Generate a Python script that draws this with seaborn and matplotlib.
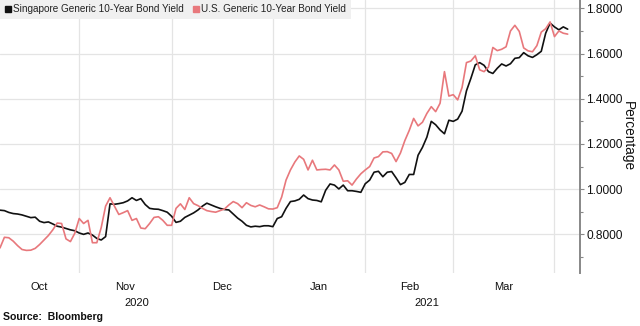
import numpy as np
import pandas as pd
import matplotlib
matplotlib.use("Agg")
import matplotlib.pyplot as plt
import matplotlib.transforms as mtransforms
from matplotlib.lines import Line2D
from matplotlib.ticker import FixedLocator, FuncFormatter
import seaborn as sns

# Trading days (weekdays) covered by the chart
dates = pd.bdate_range("2020-10-07", "2021-04-06")

sg_yield = [
    0.907, 0.905, 0.897, 0.892, 0.890, 0.886, 0.880, 0.874, 0.876, 0.858,
    0.852, 0.855, 0.846, 0.836, 0.832, 0.826, 0.820, 0.816, 0.806, 0.800,
    0.806, 0.797, 0.782, 0.775, 0.790, 0.935, 0.933, 0.936, 0.940, 0.948,
    0.962, 0.950, 0.958, 0.932, 0.915, 0.912, 0.911, 0.905, 0.898, 0.880,
    0.853, 0.858, 0.875, 0.885, 0.895, 0.908, 0.925, 0.938, 0.930, 0.922,
    0.915, 0.910, 0.908, 0.890, 0.872, 0.858, 0.840, 0.833, 0.836, 0.834,
    0.838, 0.838, 0.834, 0.870, 0.878, 0.915, 0.945, 0.948, 0.955, 0.974,
    0.958, 0.952, 0.950, 0.944, 0.995, 1.023, 1.018, 1.001, 1.018, 0.993,
    0.993, 0.990, 0.986, 1.024, 1.040, 1.075, 1.079, 1.055, 1.075, 1.078,
    1.050, 1.020, 1.030, 1.065, 1.065, 1.150, 1.185, 1.230, 1.300, 1.285,
    1.262, 1.245, 1.305, 1.300, 1.310, 1.345, 1.435, 1.490, 1.550, 1.560,
    1.548, 1.520, 1.512, 1.535, 1.554, 1.545, 1.555, 1.579, 1.582, 1.604,
    1.590, 1.583, 1.595, 1.610, 1.690, 1.735, 1.718, 1.705, 1.718, 1.708,
]

us_yield = [
    0.740, 0.787, 0.785, 0.770, 0.750, 0.733, 0.729, 0.730, 0.738, 0.755,
    0.775, 0.795, 0.820, 0.850, 0.848, 0.780, 0.768, 0.805, 0.870, 0.848,
    0.862, 0.763, 0.763, 0.830, 0.925, 0.962, 0.925, 0.888, 0.896, 0.905,
    0.862, 0.870, 0.828, 0.825, 0.848, 0.875, 0.878, 0.862, 0.840, 0.840,
    0.915, 0.935, 0.910, 0.962, 0.936, 0.927, 0.915, 0.905, 0.901, 0.898,
    0.905, 0.912, 0.930, 0.945, 0.936, 0.918, 0.940, 0.928, 0.922, 0.930,
    0.922, 0.913, 0.912, 0.918, 0.965, 1.040, 1.085, 1.120, 1.147, 1.132,
    1.085, 1.128, 1.085, 1.087, 1.088, 1.085, 1.107, 1.085, 1.035, 1.037,
    1.018, 1.045, 1.068, 1.085, 1.100, 1.138, 1.144, 1.165, 1.166, 1.158,
    1.122, 1.160, 1.215, 1.260, 1.313, 1.280, 1.296, 1.335, 1.365, 1.343,
    1.380, 1.520, 1.412, 1.418, 1.395, 1.450, 1.560, 1.567, 1.590, 1.528,
    1.520, 1.540, 1.627, 1.613, 1.619, 1.630, 1.700, 1.725, 1.698, 1.625,
    1.612, 1.608, 1.635, 1.695, 1.710, 1.740, 1.675, 1.700, 1.690, 1.686,
]

series_names = ["Singapore Generic 10-Year Bond Yield", "U.S. Generic 10-Year Bond Yield"]
series_colors = ["#111111", "#e8787c"]
month_labels = ["Oct", "Nov", "Dec", "Jan", "Feb", "Mar"]
year_labels = ["2020", "2021"]
y_ticks = [0.8, 1.0, 1.2, 1.4, 1.6, 1.8]
y_minor = [0.7, 0.9, 1.1, 1.3, 1.5, 1.7]

sns.set_style("white")
plt.rcParams["font.family"] = ["Liberation Sans", "DejaVu Sans"]

# Weekday positions (weekends removed, as on a trading-day axis)
pos = np.arange(len(dates))
df = pd.DataFrame({
    "pos": np.concatenate([pos, pos]),
    "yield": np.concatenate([sg_yield, us_yield]),
    "series": [series_names[0]] * len(pos) + [series_names[1]] * len(pos),
})

# Position of the first weekday of each month, relative to the first date
all_days = pd.bdate_range("2020-10-01", "2021-04-30")
offset = all_days.get_loc(dates[0])
month_starts = {}
for i, d in enumerate(all_days):
    key = (d.year, d.month)
    if key not in month_starts:
        month_starts[key] = i - offset
starts = list(month_starts.values())  # Oct, Nov, Dec, Jan, Feb, Mar, Apr

fig = plt.figure(figsize=(6.4, 3.26), dpi=100)
ax = fig.add_axes([0.0, 53 / 326, 580 / 640, 273 / 326])

sns.lineplot(data=df, x="pos", y="yield", hue="series", hue_order=series_names,
             palette=series_colors, linewidth=1.2, ax=ax, legend=False)

x_left, x_right = 0, 131.8
ax.set_xlim(x_left, x_right)
ax.set_ylim(0.629, 1.837)

# Grid
ax.set_xticks(starts[1:])
ax.set_xticklabels([])
ax.tick_params(axis="x", length=0)
for s in starts[1:]:
    ax.axvline(s, color="#e4e4e4", lw=0.9, zorder=0)
for yv in y_ticks:
    ax.axhline(yv, color="#e4e4e4", lw=0.9, zorder=0)

# Y axis on the right
ax.yaxis.tick_right()
ax.yaxis.set_label_position("right")
ax.set_yticks(y_ticks)
ax.yaxis.set_minor_locator(FixedLocator(y_minor))
ax.yaxis.set_major_formatter(FuncFormatter(lambda v, _: f"{v:.4f}"))
ax.tick_params(axis="y", which="major", direction="out", length=3, width=0.8,
               color="#888888", labelsize=8.6, pad=1.5, labelcolor="#111111")
ax.tick_params(axis="y", which="minor", direction="out", length=2, width=0.8,
               color="#888888")
ax.set_ylabel("Percentage", rotation=270, fontsize=9.8, labelpad=9, color="#111111")
ax.set_xlabel("")

for side in ["top", "left", "bottom"]:
    ax.spines[side].set_visible(False)
ax.spines["right"].set_color("#888888")
ax.spines["right"].set_linewidth(1.4)

# Month labels centred on each month's visible span; years below
trans = mtransforms.blended_transform_factory(ax.transData, ax.transAxes)
bounds = [x_left] + starts[1:6] + [starts[6]]
for i, lab in enumerate(month_labels):
    c = (bounds[i] + bounds[i + 1]) / 2
    ax.text(c, -0.033, lab, transform=trans, ha="center", va="top",
            fontsize=8, color="#111111")
year_spans = [(x_left, starts[3]), (starts[3], x_right)]
for lab, (a, b) in zip(year_labels, year_spans):
    ax.text((a + b) / 2, -0.09, lab, transform=trans, ha="center", va="top",
            fontsize=8, color="#111111")

fig.text(3 / 640, 1 - 317 / 326, "Source:  Bloomberg", fontsize=7.6,
         fontweight="bold", ha="left", va="center", color="#111111")

# Legend with square swatches on a light grey band
handles = [Line2D([], [], marker="s", linestyle="none", markersize=5,
                  color=c) for c in series_colors]
leg = ax.legend(handles, series_names, loc="upper left", bbox_to_anchor=(0, 1),
                ncol=2, frameon=True, fontsize=7.2, handlelength=0.6,
                handletextpad=0.25, columnspacing=0.9, borderpad=0.45,
                borderaxespad=0)
leg.get_frame().set_facecolor("#f0f0f0")
leg.get_frame().set_edgecolor("none")
leg.get_frame().set_boxstyle("square", pad=0)
leg.get_frame().set_alpha(1)
for t in leg.get_texts():
    t.set_color("#222222")

fig.savefig("out.png", dpi=100, facecolor="white")
